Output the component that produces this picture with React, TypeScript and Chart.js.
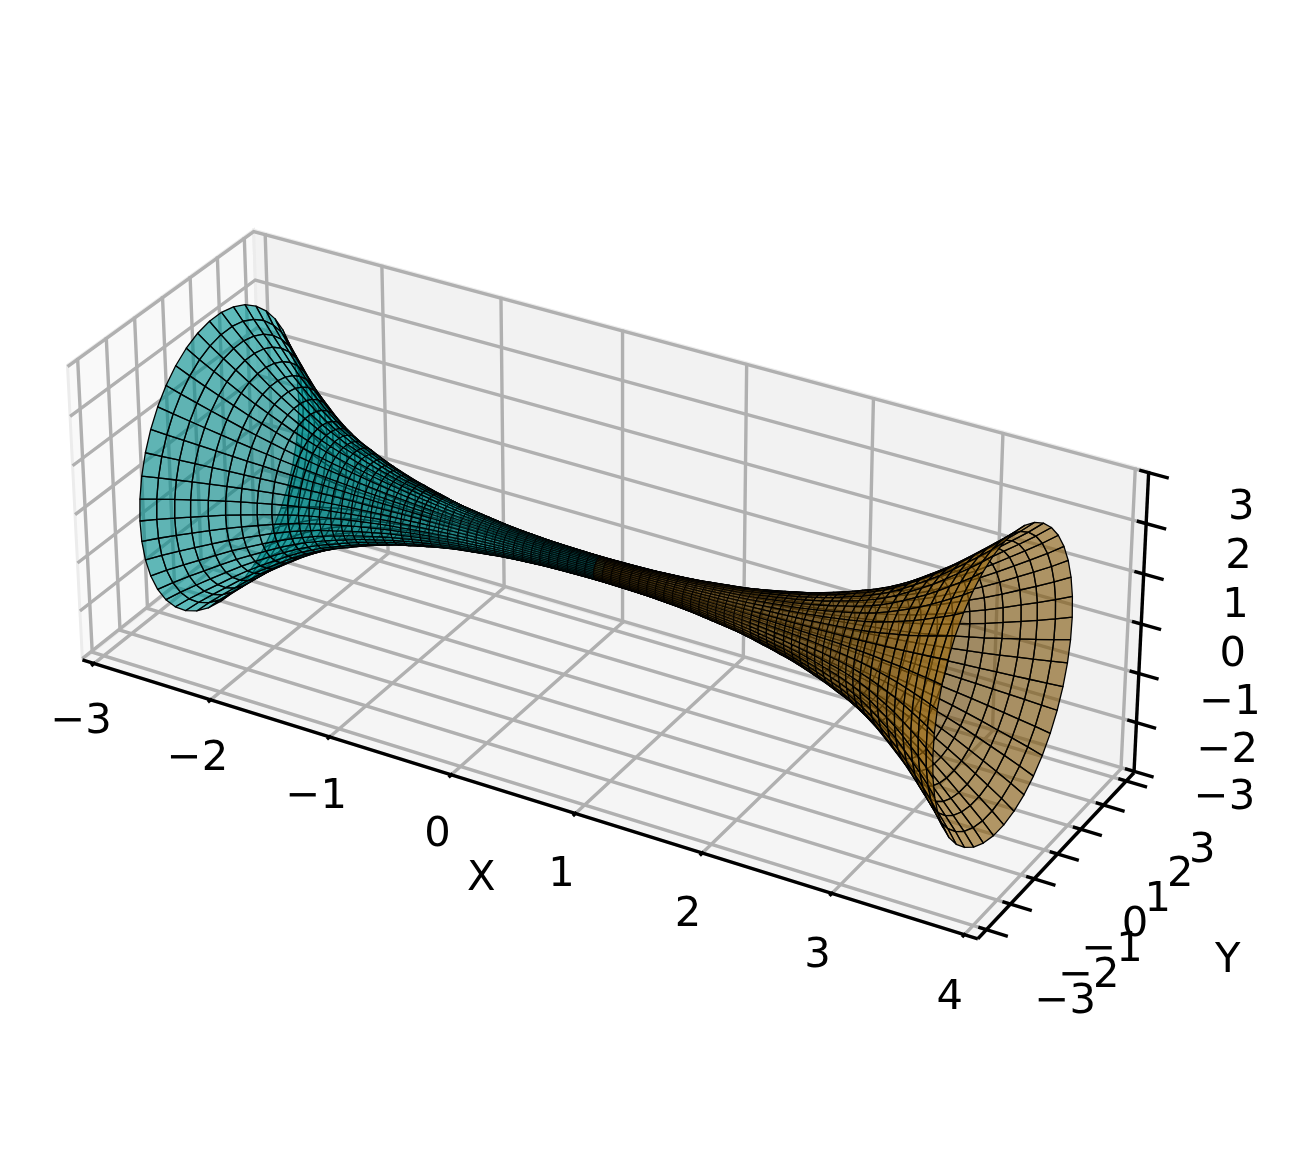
import React, { useEffect, useRef } from "react";
import { Chart, registerables } from "chart.js";
Chart.register(...registerables);

const xTicks = [-3, -2, -1, 0, 1, 2, 3, 4];
const yTicks = [-3, -2, -1, 0, 1, 2, 3];
const zTicks = [-3, -2, -1, 0, 1, 2, 3];
const xLim = [-3.1, 4.1];
const yLim = [-3.35, 3.35];
const zLim = [-3.03, 3.03];

const neckX = 0.5;
const ringDistance = [0, 0.07, 0.14, 0.21, 0.29, 0.36, 0.43, 0.5, 0.57, 0.64, 0.72, 0.79, 0.86, 0.93, 1.0, 1.07, 1.15, 1.22, 1.29, 1.36, 1.43, 1.5, 1.58, 1.65, 1.72, 1.79, 1.86, 1.93, 2.0, 2.08, 2.15, 2.22, 2.29, 2.39, 2.48, 2.58, 2.67, 2.77, 2.87, 2.96, 3.06, 3.15];
const ringRadius = [0.22, 0.22, 0.223, 0.226, 0.23, 0.235, 0.24, 0.25, 0.26, 0.27, 0.285, 0.3, 0.32, 0.34, 0.36, 0.38, 0.405, 0.435, 0.465, 0.5, 0.535, 0.575, 0.615, 0.66, 0.71, 0.76, 0.815, 0.875, 0.94, 1.01, 1.085, 1.165, 1.255, 1.4, 1.55, 1.72, 1.88, 2.08, 2.29, 2.48, 2.7, 2.92];
const ringAngles = [0, 8.57, 17.14, 25.71, 34.29, 42.86, 51.43, 60, 68.57, 77.14, 85.71, 94.29, 102.86, 111.43, 120, 128.57, 137.14, 145.71, 154.29, 162.86, 171.43, 180, 188.57, 197.14, 205.71, 214.29, 222.86, 231.43, 240, 248.57, 257.14, 265.71, 274.29, 282.86, 291.43, 300, 308.57, 317.14, 325.71, 334.29, 342.86, 351.43, 360];

// calibration of the view: data position -> picture position
const viewData = [[-3, 3.35, 3], [-2, 3.35, 3], [0, 3.35, 3], [2, 3.35, 3], [4, 3.35, 3], [4, 3.35, 0], [4, 3.35, -3], [4, -3, -3], [4, 3, -3], [-2, -3, -3], [-3.1, -3, -3], [-3.1, -3, 3], [-3.1, 3, 3], [0, 3.35, -3], [4.1, -3.35, -3], [4.1, 3.35, 3]];
const viewPicture = [[266, 235], [382, 265], [623, 333], [873, 399], [1135, 468], [1128, 622], [1121, 765], [973, 924], [1113, 777], [220, 690], [92, 650], [78, 360], [243, 238], [623, 622], [978, 938], [1149, 471]];

function solveView(): number[] {
  const n = 11;
  const A: number[][] = Array.from({ length: n }, () => new Array(n + 1).fill(0));
  const add = (row: number[], rhs: number) => {
    for (let i = 0; i < n; i++) {
      for (let j = 0; j < n; j++) A[i][j] += row[i] * row[j];
      A[i][n] += row[i] * rhs;
    }
  };
  viewData.forEach(([x, y, z], k) => {
    const u = viewPicture[k][0] / 1000;
    const v = viewPicture[k][1] / 1000;
    add([x, y, z, 1, 0, 0, 0, 0, -u * x, -u * y, -u * z], u);
    add([0, 0, 0, 0, x, y, z, 1, -v * x, -v * y, -v * z], v);
  });
  for (let c = 0; c < n; c++) {
    let p = c;
    for (let r = c + 1; r < n; r++) if (Math.abs(A[r][c]) > Math.abs(A[p][c])) p = r;
    [A[c], A[p]] = [A[p], A[c]];
    for (let r = 0; r < n; r++) {
      if (r === c) continue;
      const f = A[r][c] / A[c][c];
      for (let j = c; j <= n; j++) A[r][j] -= f * A[c][j];
    }
  }
  return A.map((row, i) => row[n] / row[i]);
}
const view = solveView();
const depth = (x: number, y: number, z: number) => view[8] * x + view[9] * y + view[10] * z + 1;
const project = (x: number, y: number, z: number) => {
  const w = depth(x, y, z);
  return {
    x: (1000 * (view[0] * x + view[1] * y + view[2] * z + view[3])) / w,
    y: (1000 * (view[4] * x + view[5] * y + view[6] * z + view[7])) / w,
  };
};

type V3 = [number, number, number];
const path = (pts: V3[]) => pts.map((p) => project(p[0], p[1], p[2]));

const LIGHT: V3 = [-0.667, -0.667, 0.333];
type Quad = { pts: V3[]; depth: number; color: string; width: number };

function buildQuads(side: number, base: number[], alpha: number, flip: number, slopeDim: number): Quad[] {
  const quads: Quad[] = [];
  for (let i = 0; i < ringDistance.length - 1; i++) {
    const x0 = neckX + side * ringDistance[i];
    const x1 = neckX + side * ringDistance[i + 1];
    const r0 = ringRadius[i];
    const r1 = ringRadius[i + 1];
    for (let j = 0; j < ringAngles.length - 1; j++) {
      const a0 = (ringAngles[j] * Math.PI) / 180;
      const a1 = (ringAngles[j + 1] * Math.PI) / 180;
      const pts: V3[] = [
        [x0, r0 * Math.cos(a0), r0 * Math.sin(a0)],
        [x1, r1 * Math.cos(a0), r1 * Math.sin(a0)],
        [x1, r1 * Math.cos(a1), r1 * Math.sin(a1)],
        [x0, r0 * Math.cos(a1), r0 * Math.sin(a1)],
      ];
      const mid = (a0 + a1) / 2;
      const slope = (r1 - r0) / (x1 - x0);
      const nv: V3 = [-slope, Math.cos(mid), Math.sin(mid)];
      const len = Math.hypot(nv[0], nv[1], nv[2]);
      const dot = (flip * (nv[0] * LIGHT[0] + nv[1] * LIGHT[1] + nv[2] * LIGHT[2])) / len;
      const slopeFactor = 1 - slopeDim + slopeDim * Math.min(1, Math.abs(slope) / 2.2);
      const f = (0.65 + 0.35 * dot) * slopeFactor;
      const c = base.map((b) => Math.round(b * f));
      const avg = pts.reduce((s, p) => s + depth(p[0], p[1], p[2]), 0) / 4;
      quads.push({
        pts,
        depth: avg,
        color: `rgba(${c[0]},${c[1]},${c[2]},${alpha})`,
        width: r1 < 0.5 ? 0.8 : r1 < 1.2 ? 1.05 : 1.3,
      });
    }
  }
  return quads;
}

const quads = [...buildQuads(-1, [0, 178, 178], 0.62, -1, 0), ...buildQuads(1, [165, 112, 16], 0.62, 1, 0.5)].sort((a, b) => b.depth - a.depth);

const FONT = "41.67px 'DejaVu Sans'";
const tickText = (v: number) => (v < 0 ? "\u2212" + Math.abs(v) : String(v));

const surfacePlugin = {
  id: "surface3d",
  afterDatasetsDraw(chart: any) {
    const { ctx, scales } = chart;
    const sx = (v: number) => scales.x.getPixelForValue(v);
    const sy = (v: number) => scales.y.getPixelForValue(v);
    const verts = chart.data.datasets.find((d: any) => d.label === "surface").data;
    ctx.save();
    ctx.lineJoin = "round";
    ctx.strokeStyle = "#000";
    quads.forEach((q, i) => {
      ctx.beginPath();
      for (let k = 0; k < 4; k++) {
        const p = verts[i * 4 + k];
        if (k === 0) ctx.moveTo(sx(p.x), sy(p.y));
        else ctx.lineTo(sx(p.x), sy(p.y));
      }
      ctx.closePath();
      ctx.fillStyle = q.color;
      ctx.fill();
      ctx.lineWidth = q.width;
      ctx.stroke();
    });
    ctx.fillStyle = "#000";
    ctx.font = FONT;
    ctx.textAlign = "center";
    ctx.textBaseline = "middle";
    const label = (t: string, x: number, y: number, z: number) => {
      const p = project(x, y, z);
      ctx.fillText(t, sx(p.x), sy(p.y));
    };
    xTicks.forEach((v) => label(tickText(v), v, yLim[0] - 0.54, zLim[0] - 0.99));
    yTicks.forEach((v) => label(tickText(v), xLim[1] + 0.6, v, zLim[0] - 0.96));
    zTicks.forEach((v) => label(tickText(v), xLim[1] + 0.69, yLim[1], v * 0.968 - 0.1));
    label("X", 0.39, yLim[0] - 0.72, zLim[0] - 1.49);
    label("Y", xLim[1] + 1.3, -0.05, zLim[0] - 1.08);
    ctx.restore();
  },
};

const GRID = "#b0b0b0";
const line = (label: string, pts: V3[], color: string, width: number) => ({
  label,
  data: path(pts),
  showLine: true,
  borderColor: color,
  borderWidth: width,
  pointRadius: 0,
  fill: false,
  tension: 0,
  clip: false,
});
const pane = (label: string, pts: V3[], fillColor: string) => ({
  ...line(label, pts, "#ececec", 3),
  backgroundColor: fillColor,
  fill: "shape",
});

function buildDatasets() {
  const [x0, x1] = xLim;
  const [y0, y1] = yLim;
  const [z0, z1] = zLim;
  const ds: any[] = [];
  ds.push(pane("pane x", [[x0, y0, z0], [x0, y1, z0], [x0, y1, z1], [x0, y0, z1], [x0, y0, z0]], "#f9f9f9"));
  ds.push(pane("pane y", [[x0, y1, z0], [x1, y1, z0], [x1, y1, z1], [x0, y1, z1], [x0, y1, z0]], "#f2f2f2"));
  ds.push(pane("pane z", [[x0, y0, z0], [x1, y0, z0], [x1, y1, z0], [x0, y1, z0], [x0, y0, z0]], "#f5f5f5"));
  xTicks.forEach((v) => ds.push(line("grid x " + v, [[v, y0, z0], [v, y1, z0], [v, y1, z1]], GRID, 3.4)));
  yTicks.forEach((v) => ds.push(line("grid y " + v, [[x1, v, z0], [x0, v, z0], [x0, v, z1]], GRID, 3.4)));
  zTicks.forEach((v) => ds.push(line("grid z " + v, [[x0, y0, v], [x0, y1, v], [x1, y1, v]], GRID, 3.4)));
  ds.push(line("axis x", [[x0, y0, z0], [x1, y0, z0]], "#000", 3.4));
  ds.push(line("axis y", [[x1, y0, z0], [x1, y1, z0]], "#000", 3.4));
  ds.push(line("axis z", [[x1, y1, z0], [x1, y1, z1]], "#000", 3.4));
  xTicks.forEach((v) => ds.push(line("tick x " + v, [[v, y0 + 0.05, z0], [v, y0 - 0.1, z0]], "#000", 3.4)));
  yTicks.forEach((v) => ds.push(line("tick y " + v, [[x1 - 0.06, v, z0], [x1 + 0.16, v, z0]], "#000", 3.4)));
  zTicks.forEach((v) => ds.push(line("tick z " + v, [[x1 - 0.07, y1, v], [x1 + 0.15, y1, v]], "#000", 3.4)));
  ds.forEach((d, i) => (d.order = ds.length - i));
  ds.push({
    label: "surface",
    data: quads.flatMap((q) => path(q.pts)),
    showLine: false,
    pointRadius: 0,
    order: 0,
  });
  return ds;
}

export default function App() {
  const ref = useRef<HTMLCanvasElement>(null);
  useEffect(() => {
    const chart = new Chart(ref.current!, {
      type: "scatter",
      data: { datasets: buildDatasets() },
      options: {
        animation: false,
        responsive: false,
        devicePixelRatio: 1,
        layout: { padding: 0 },
        events: [],
        plugins: { legend: { display: false }, tooltip: { enabled: false } },
        scales: {
          x: { type: "linear", min: 0, max: 1290, display: false },
          y: { type: "linear", min: 0, max: 1168, reverse: true, display: false },
        },
      },
      plugins: [surfacePlugin],
    } as any);
    return () => chart.destroy();
  }, []);
  return (
    <div style={{ position: "absolute", left: 0, top: 0, width: 1290, height: 1168, background: "#fff" }}>
      <canvas ref={ref} width={1290} height={1168} style={{ display: "block" }} />
    </div>
  );
}
